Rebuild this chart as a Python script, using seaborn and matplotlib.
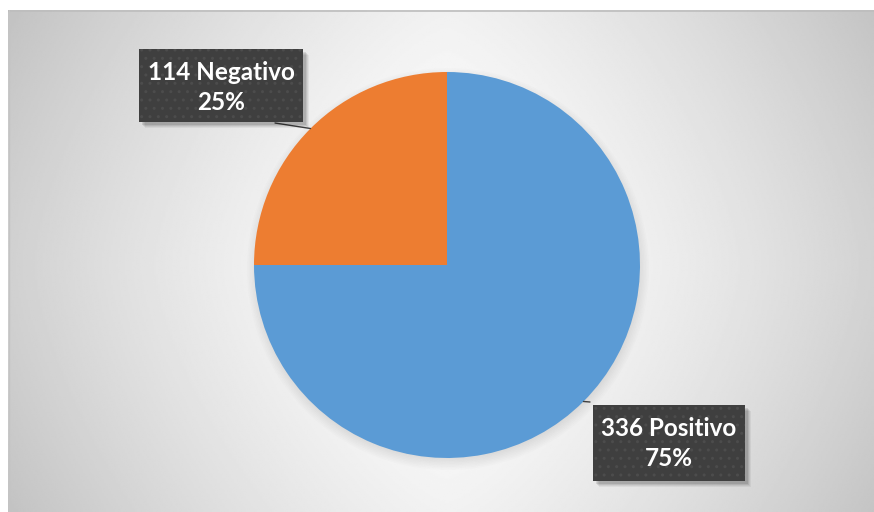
import numpy as np
import matplotlib
matplotlib.use("Agg")
import matplotlib.pyplot as plt
from matplotlib.patches import Rectangle, Circle
import seaborn as sns

categories = ["Positivo", "Negativo"]
counts = [336, 114]
percents = [75, 25]
colors = ["#5B9BD5", "#ED7D31"]

sns.set_theme(style="white")
plt.rcParams["font.family"] = ["Lato", "DejaVu Sans"]

W, H = 874, 512
fig = plt.figure(figsize=(W / 100, H / 100), dpi=100)
fig.patch.set_facecolor("white")

# radial grey gradient behind the chart
x0, y0 = 8, 10
cx, cy = 447, 265
bg = fig.add_axes([x0 / W, 0, (W - x0) / W, (H - y0) / H])
gx = np.linspace(x0, W, 500)
gy = np.linspace(y0, H, 300)
XX, YY = np.meshgrid(gx, gy)
dx = np.abs(XX - cx) / 435
dy = np.abs(YY - cy) / 252
dark = 46 * dx ** 1.35 + 14 * dy ** 1.5
val = (255 - dark) / 255
bg.imshow(val, cmap="gray", vmin=0, vmax=1, aspect="auto",
          extent=[x0, W, H, y0], interpolation="bilinear")
bg.set_xlim(x0, W)
bg.set_ylim(H, y0)
bg.axis("off")
bg.plot([x0, W], [y0 + 0.5, y0 + 0.5], color="#bdbdbd", lw=1.2)
bg.plot([x0 + 0.5, x0 + 0.5], [y0, H], color="#c4c4c4", lw=1.0)

# soft shadow under the pie
R = 193
for k in range(8):
    bg.add_patch(Circle((cx + 1, cy + 4), R + 8 - k * 1.5, facecolor="black",
                        edgecolor="none", alpha=0.012))

# pie
pie_ax = fig.add_axes([(cx - R) / W, (H - cy - R) / H, 2 * R / W, 2 * R / H])
wedges, _ = pie_ax.pie(percents, colors=colors, startangle=90, counterclock=False,
                       radius=1, wedgeprops=dict(linewidth=0))
pie_ax.set_xlim(-1, 1)
pie_ax.set_ylim(-1, 1)
pie_ax.set_aspect("equal")
pie_ax.axis("off")

# label overlay in pixel coordinates
ov = fig.add_axes([0, 0, 1, 1])
ov.set_xlim(0, W)
ov.set_ylim(H, 0)
ov.axis("off")
ov.patch.set_alpha(0)

boxes = {
    "Positivo": (593, 405, 152, 76),
    "Negativo": (139, 49, 164, 73),
}
attach = {
    "Positivo": (590, 402),
    "Negativo": (275, 123),
}

for w, cat, n, pct in zip(wedges, categories, counts, percents):
    mid = np.deg2rad((w.theta1 + w.theta2) / 2)
    ex = cx + R * np.cos(mid)
    ey = cy - R * np.sin(mid)
    bx, by, bw, bh = boxes[cat]
    ax_, ay_ = attach[cat]
    ov.plot([ax_, ex], [ay_, ey], color="#404040", lw=1.0, zorder=2)
    # soft drop shadow
    for k, a in enumerate([0.05, 0.06, 0.08, 0.1]):
        off = 6 - k
        ov.add_patch(Rectangle((bx + off, by + off), bw, bh, facecolor="black",
                               edgecolor="none", alpha=a, zorder=3))
    ov.add_patch(Rectangle((bx, by), bw, bh, facecolor="#3f3f3f",
                           edgecolor="#4c4c4c", lw=0, hatch="..", zorder=4))
    ov.text(bx + bw / 2, by + 24, f"{n} {cat}", color="white", fontsize=17.5,
            fontweight="bold", ha="center", va="center", zorder=5)
    ov.text(bx + bw / 2, by + 54, f"{pct}%", color="white", fontsize=17.5,
            fontweight="bold", ha="center", va="center", zorder=5)

fig.savefig("out.png", dpi=100)
